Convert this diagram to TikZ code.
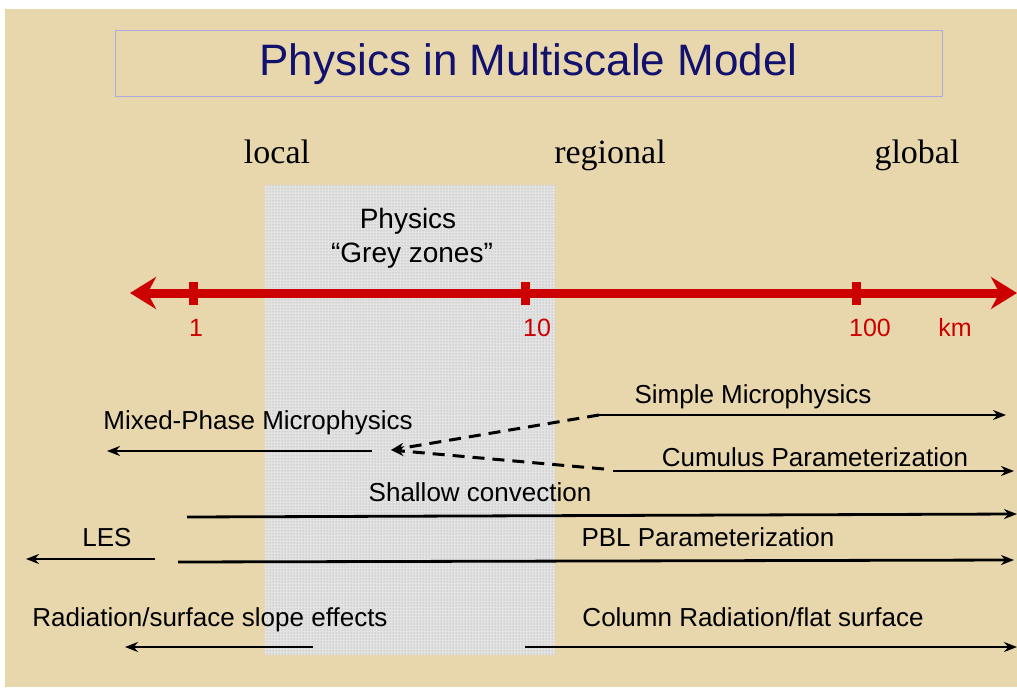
\documentclass[tikz,border=0pt]{standalone}
\usepackage{fontspec}
\setmainfont{Liberation Sans}
\newfontfamily\timesfont{Liberation Serif}
\usetikzlibrary{
    arrows.meta,
    patterns
}

\definecolor{parchment}{RGB}{232,215,172}
\definecolor{axisred}{RGB}{204,0,0}
\definecolor{titleblue}{RGB}{18,18,110}
\definecolor{titleframe}{RGB}{172,170,222}

\begin{document}
\begin{tikzpicture}[x=1pt,y=-1pt,
    lbl/.style={font=\fontsize{26}{30}\selectfont, inner sep=0pt, anchor=base},
    scalelbl/.style={font=\timesfont\fontsize{34}{40}\selectfont, inner sep=0pt, anchor=base},
    kmlbl/.style={text=axisred, font=\fontsize{25}{30}\selectfont, inner sep=0pt, anchor=base},
    rng/.style={line width=2.8pt, -{Stealth[length=13pt,width=10pt]}},
    hint/.style={line width=3pt, dash pattern=on 12pt off 8pt, -{Stealth[length=13pt,width=10pt]}}
]

% Page and parchment
\useasboundingbox (0,0) rectangle (1017,690);
\fill[white] (0,0) rectangle (1017,690);
\fill[parchment] (5,9) rectangle (1017,687);

% Grey zone
\fill[gray!22] (265,185) rectangle (555,655);
\fill[pattern=dots, pattern color=gray!80] (265,185) rectangle (555,655);

% Title
\node[draw=titleframe, line width=1pt, minimum width=827pt, minimum height=66pt,
      text=titleblue, font=\fontsize{44}{50}\selectfont] (title) at (528.5,64)
      {Physics in Multiscale Model};

% Scales
\node[scalelbl] (local) at (277,164) {local};
\node[scalelbl] (regional) at (610,164) {regional};
\node[scalelbl] (global) at (917,164) {global};

% Grey zone label
\node[lbl, font=\fontsize{28}{32}\selectfont] (gzone) at (408,228) {Physics};
\node[lbl, font=\fontsize{28}{32}\selectfont] (gzone2) at (412,262) {“Grey zones”};

% Red axis
\coordinate (axL) at (130,293);
\coordinate (axR) at (1017,293);
\draw[axisred, line width=9pt,
      {Stealth[length=26pt,width=32pt]}-{Stealth[length=26pt,width=32pt]}] (axL) -- (axR);
\foreach \x in {193,525,856}
    \fill[axisred] (\x-4.5,282) rectangle (\x+4.5,305);
\node[kmlbl] (one) at (196,336) {1};
\node[kmlbl] (ten) at (537,336) {10};
\node[kmlbl] (hundred) at (870,336) {100};
\node[kmlbl] (km) at (955,336) {km};

% Microphysics
\node[lbl] (simple) at (753,403) {Simple Microphysics};
\coordinate (simpleS) at (599,415);
\coordinate (simpleE) at (1006,415);
\draw[rng] (simpleS) -- (simpleE);

\node[lbl] (mixed) at (258,429) {Mixed-Phase Microphysics};
\coordinate (mixS) at (372,451);
\coordinate (mixE) at (107,451);
\coordinate (mixTip) at (391,450);
\draw[rng] (mixS) -- (mixE);

% Cumulus
\node[lbl] (cumulus) at (815,466) {Cumulus Parameterization};
\coordinate (cuS) at (613,471);
\coordinate (cuE) at (1014,471);
\coordinate (cuD) at (604,469);
\draw[rng] (cuS) -- (cuE);

% Dashed hints to mixed phase
\draw[hint] (simpleS) -- (mixTip);
\draw[hint] (cuD) -- (mixTip);

% Shallow convection
\node[lbl] (shallow) at (480,501) {Shallow convection};
\coordinate (shS) at (187,517);
\coordinate (shE) at (1017,514);
\draw[rng] (shS) -- (shE);

% LES and PBL
\node[lbl] (les) at (107,546) {LES};
\coordinate (lesS) at (155,559);
\coordinate (lesE) at (26,559);
\draw[rng] (lesS) -- (lesE);

\node[lbl] (pbl) at (708,546) {PBL Parameterization};
\coordinate (pblS) at (178,562);
\coordinate (pblE) at (1014,560);
\draw[rng] (pblS) -- (pblE);

% Radiation
\node[lbl] (slope) at (210,626) {Radiation/surface slope effects};
\coordinate (slopeS) at (313,647);
\coordinate (slopeE) at (125,647);
\draw[rng] (slopeS) -- (slopeE);

\node[lbl] (column) at (753,626) {Column Radiation/flat surface};
\coordinate (colS) at (525,647);
\coordinate (colE) at (1017,647);
\draw[rng] (colS) -- (colE);

\end{tikzpicture}
\end{document}
